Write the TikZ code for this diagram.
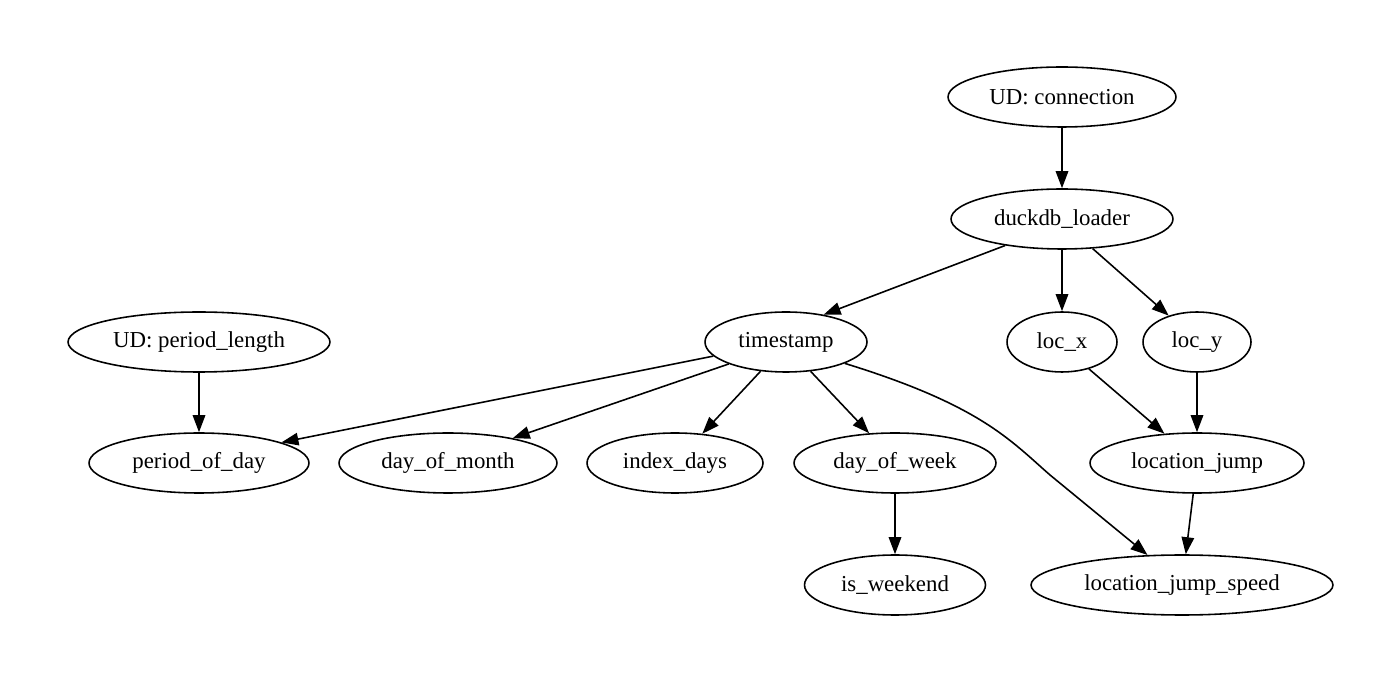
\documentclass[tikz,border=0pt]{standalone}
\usepackage{fontspec}
\setmainfont{Liberation Serif}
\usetikzlibrary{arrows.meta,shapes.geometric}

\begin{document}
\begin{tikzpicture}[x=0.02cm,y=-0.02cm,
  var/.style={draw,line width=0.9pt,ellipse,inner sep=0pt,minimum height=1.2cm,font=\fontsize{13}{15}\selectfont},
  dep/.style={-{Triangle[length=0.34cm,width=0.25cm]},line width=0.9pt}]
\useasboundingbox (0,0) rectangle (1400,685);
% top of the graph
\node[var,minimum width=4.56cm] (conn) at (1062,97) {UD: connection};
\node[var,minimum width=4.44cm] (loader) at (1062,219) {duckdb\_loader};
\node[var,minimum width=3.24cm] (ts) at (786,342) {timestamp};
\node[var,minimum width=2.2cm] (locx) at (1062,342) {loc\_x};
\node[var,minimum width=2.16cm] (locy) at (1197,342) {loc\_y};
\node[var,minimum width=5.24cm] (plen) at (199,342) {UD: period\_length};
% second row
\node[var,minimum width=4.4cm] (pod) at (199,463) {period\_of\_day};
\node[var,minimum width=4.36cm] (dom) at (448,463) {day\_of\_month};
\node[var,minimum width=3.52cm] (idx) at (675,463) {index\_days};
\node[var,minimum width=4.04cm] (dow) at (895,463) {day\_of\_week};
\node[var,minimum width=4.28cm] (ljump) at (1197,463) {location\_jump};
% bottom row
\node[var,minimum width=3.62cm] (wknd) at (895,585) {is\_weekend};
\node[var,minimum width=6.04cm] (lspeed) at (1182,585) {location\_jump\_speed};

\draw[dep] (conn) -- (loader);
\draw[dep] (loader.205) -- (ts.36);
\draw[dep] (loader) -- (locx);
\draw[dep] (loader.316) -- (locy.137);
\draw[dep] (plen) -- (pod);
\draw[dep] (ts.191) -- (pod.14);
\draw[dep] (ts.201) -- (dom.21);
\draw[dep] (ts.229) -- (idx.47);
\draw[dep] (ts.310) -- (dow.131);
\draw[dep] (ts.340) .. controls (980,405) and (1010,440) .. (1050,475) -- (lspeed.139);
\draw[dep] (locx.315) -- (ljump.138);
\draw[dep] (locy) -- (ljump);
\draw[dep] (ljump) -- (lspeed);
\draw[dep] (dow) -- (wknd);
\end{tikzpicture}
\end{document}
